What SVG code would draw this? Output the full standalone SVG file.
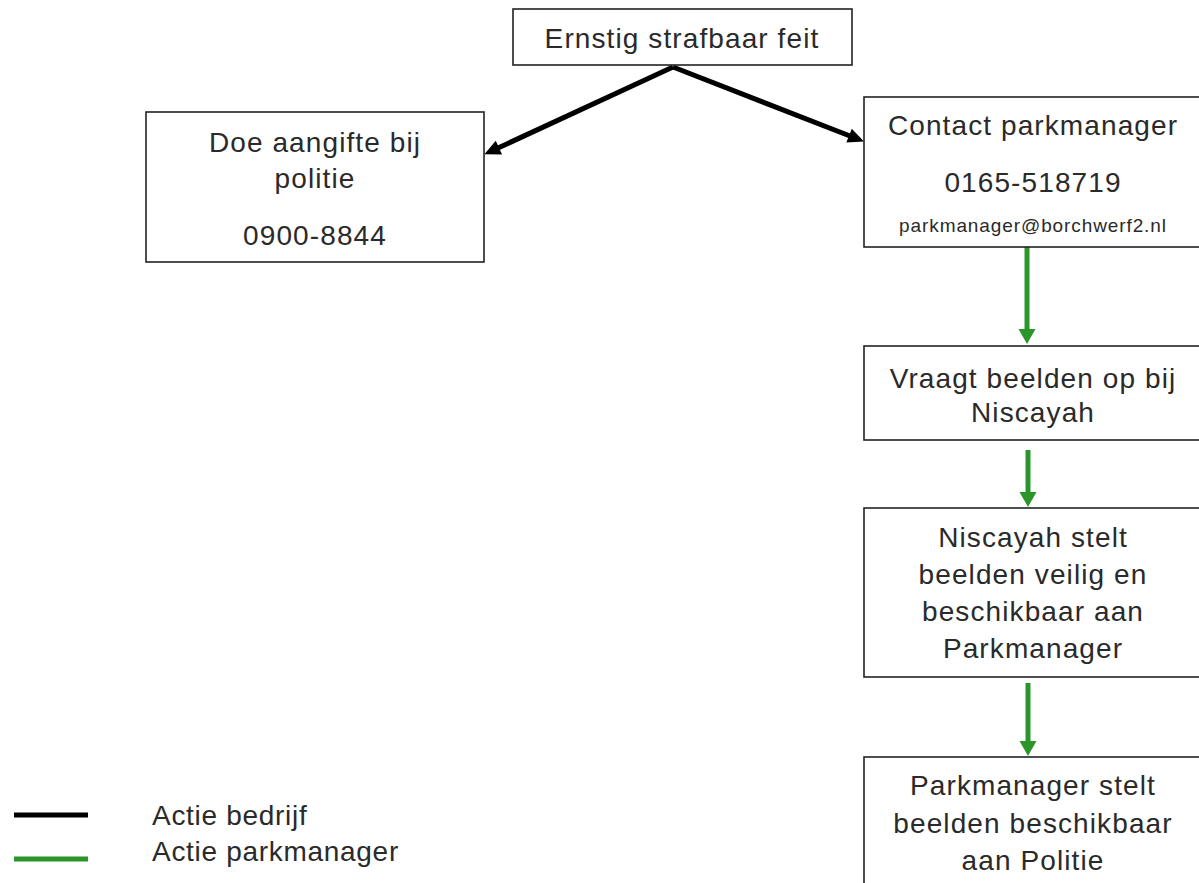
<svg xmlns="http://www.w3.org/2000/svg" width="1199" height="883" viewBox="0 0 1199 883">
<defs>
<style>
.box{fill:#fff;stroke:#222;stroke-width:1.6}
.t{font-family:"Liberation Sans",Arial,sans-serif;font-size:28px;fill:#2a2a2a;text-anchor:middle;letter-spacing:1.1px}
.s{font-size:19px;letter-spacing:0.9px}
.l{text-anchor:start;letter-spacing:0.7px}
.blk{stroke:#000;stroke-width:5;fill:none}
.grn{stroke:#2a962a;stroke-width:5;fill:none}
</style>
<marker id="ab" markerUnits="userSpaceOnUse" markerWidth="20" markerHeight="20" viewBox="0 -10 20 20" refX="0" refY="0" orient="auto" overflow="visible">
<path d="M-1,-7.5 L15,0 L-1,7.5 z" fill="#000"/>
</marker>
<marker id="ag" markerUnits="userSpaceOnUse" markerWidth="20" markerHeight="20" viewBox="0 -10 20 20" refX="0" refY="0" orient="auto" overflow="visible">
<path d="M-1,-8.5 L14,0 L-1,8.5 z" fill="#2a962a"/>
</marker>
</defs>
<rect width="1199" height="883" fill="#fff"/>

<g id="connectors">
<line class="blk" x1="673" y1="67" x2="498" y2="148" marker-end="url(#ab)"/>
<line class="blk" x1="673" y1="67" x2="850" y2="136" marker-end="url(#ab)"/>
<line class="grn" x1="1027" y1="247" x2="1027" y2="330" marker-end="url(#ag)"/>
<line class="grn" x1="1028" y1="450" x2="1028" y2="493" marker-end="url(#ag)"/>
<line class="grn" x1="1028" y1="683" x2="1028" y2="742" marker-end="url(#ag)"/>
</g>

<g id="n-feit">
<rect class="box" x="513" y="9" width="339" height="56"/>
<text class="t" x="682" y="48">Ernstig strafbaar feit</text>
</g>

<g id="n-aangifte">
<rect class="box" x="146" y="112" width="338" height="150"/>
<text class="t" x="315" y="152">Doe aangifte bij</text>
<text class="t" x="315" y="188">politie</text>
<text class="t" x="315" y="245">0900-8844</text>
</g>

<g id="n-contact">
<rect class="box" x="864" y="97" width="338" height="150"/>
<text class="t" x="1033" y="135">Contact parkmanager</text>
<text class="t" x="1033" y="192">0165-518719</text>
<text class="t s" x="1033" y="232">parkmanager@borchwerf2.nl</text>
</g>

<g id="n-vraagt">
<rect class="box" x="864" y="346" width="338" height="94"/>
<text class="t" x="1033" y="388">Vraagt beelden op bij</text>
<text class="t" x="1033" y="422">Niscayah</text>
</g>

<g id="n-niscayah">
<rect class="box" x="864" y="508" width="338" height="169"/>
<text class="t" x="1033" y="547">Niscayah stelt</text>
<text class="t" x="1033" y="584">beelden veilig en</text>
<text class="t" x="1033" y="621">beschikbaar aan</text>
<text class="t" x="1033" y="658">Parkmanager</text>
</g>

<g id="n-politie">
<rect class="box" x="864" y="757" width="338" height="150"/>
<text class="t" x="1033" y="795">Parkmanager stelt</text>
<text class="t" x="1033" y="833">beelden beschikbaar</text>
<text class="t" x="1033" y="870">aan Politie</text>
</g>

<g id="legend">
<line class="blk" x1="14" y1="815" x2="88" y2="815"/>
<line class="grn" x1="14" y1="859" x2="88" y2="859"/>
<text class="t l" x="152" y="825">Actie bedrijf</text>
<text class="t l" x="152" y="861">Actie parkmanager</text>
</g>
</svg>
